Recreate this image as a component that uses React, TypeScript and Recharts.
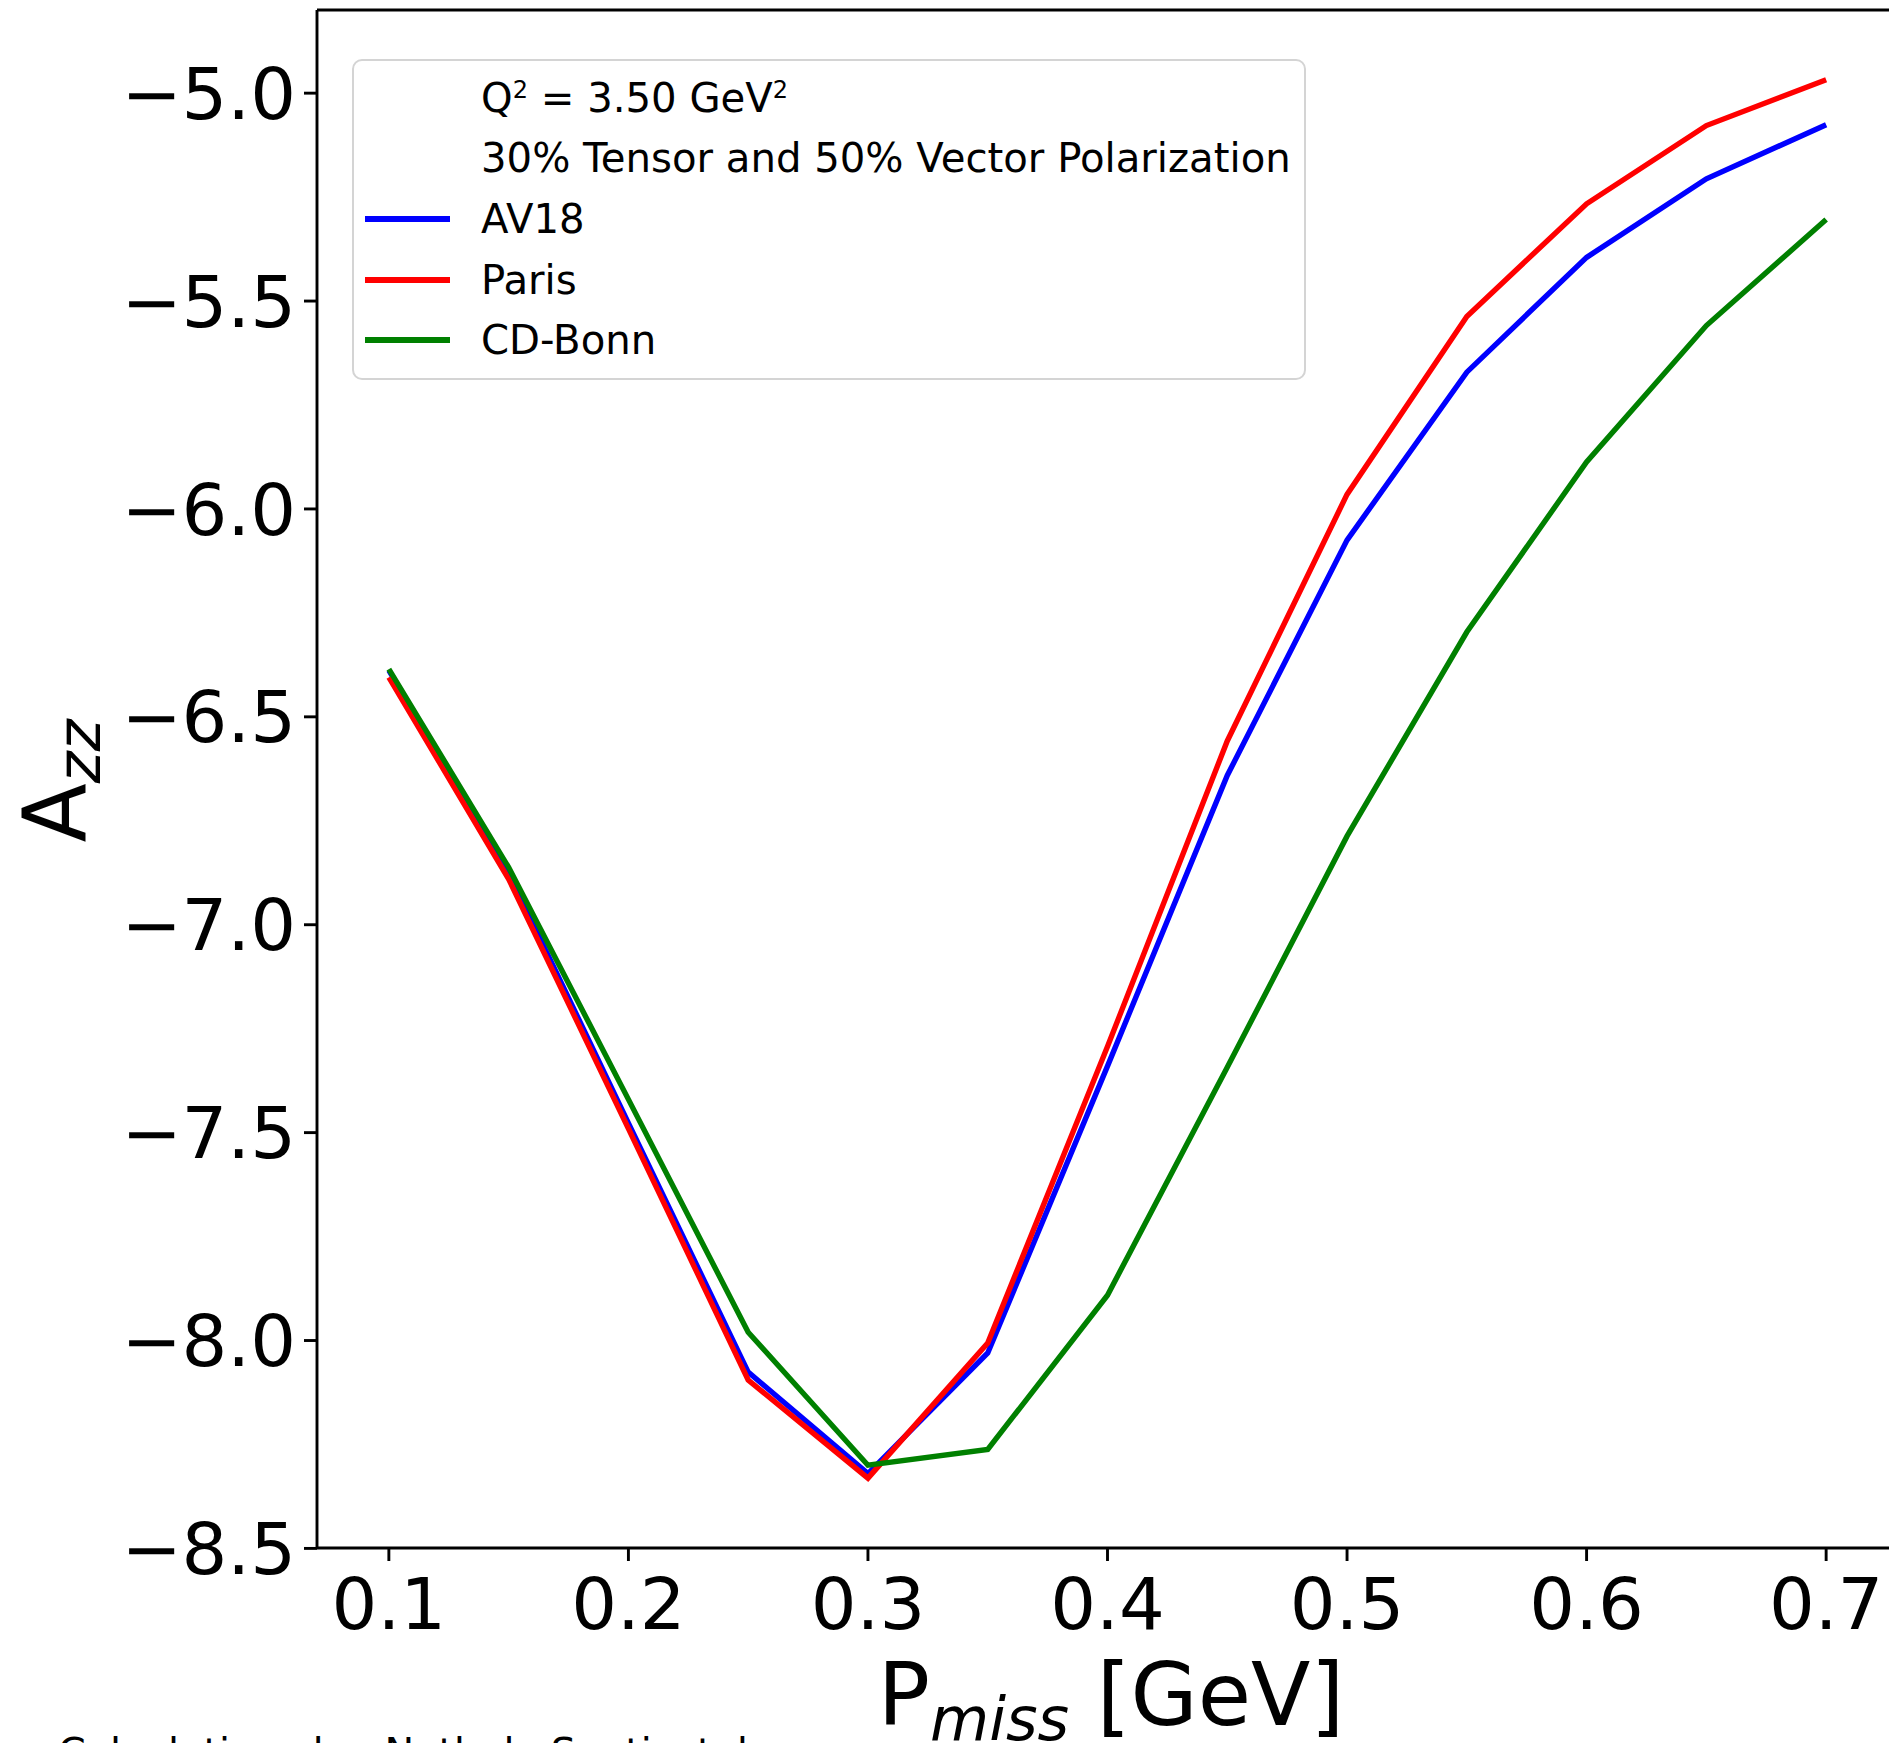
import React from 'react';
import { LineChart, Line, XAxis, YAxis, Legend, ReferenceLine } from 'recharts';

const pMiss = [0.1, 0.15, 0.2, 0.25, 0.3, 0.35, 0.4, 0.45, 0.5, 0.55, 0.6, 0.65, 0.7];
const av18 = [-6.388, -6.875, -7.477, -8.076, -8.32, -8.03, -7.34, -6.641, -6.075, -5.671, -5.395, -5.206, -5.076];
const paris = [-6.405, -6.89, -7.49, -8.095, -8.331, -8.006, -7.293, -6.558, -5.965, -5.537, -5.266, -5.078, -4.968];
const cdBonn = [-6.385, -6.862, -7.42, -7.98, -8.3, -8.262, -7.891, -7.343, -6.787, -6.296, -5.887, -5.559, -5.304];

const xTicks = [0.1, 0.2, 0.3, 0.4, 0.5, 0.6, 0.7];
const yTicks = [-8.5, -8.0, -7.5, -7.0, -6.5, -6.0, -5.5, -5.0];
const xDomain = [0.07, 0.73];
const yDomain = [-8.499, -4.8];

const seriesNames = ['AV18', 'Paris', 'CD-Bonn'];
const seriesKeys = ['av18', 'paris', 'cdBonn'];
const seriesColors = ['#0000ff', '#ff0000', '#008000'];

const FONT = 'DejaVu Sans';

const data = pMiss.map((x, i) => ({ x, av18: av18[i], paris: paris[i], cdBonn: cdBonn[i] }));

const fmtY = (v: number) => (v < 0 ? '\u2212' : '') + Math.abs(v).toFixed(1);
const fmtX = (v: number) => v.toFixed(1);

const rowCenters = [37, 97, 158, 219, 279];

const renderLegend = () => (
  <div
    style={{
      position: 'relative',
      width: 954,
      height: 321,
      boxSizing: 'border-box',
      border: '2.9px solid #d4d4d4',
      borderRadius: 10,
      background: 'rgba(255,255,255,0.8)',
      fontFamily: FONT,
      fontSize: 40.2,
      color: '#000',
      whiteSpace: 'nowrap',
    }}
  >
    <div style={{ position: 'absolute', left: 127, top: rowCenters[0] - 30, height: 60, display: 'flex', alignItems: 'center' }}>
      <span>
        Q<span style={{ fontSize: 24, position: 'relative', top: -14 }}>2</span> = 3.50 GeV
        <span style={{ fontSize: 24, position: 'relative', top: -14 }}>2</span>
      </span>
    </div>
    <div style={{ position: 'absolute', left: 127, top: rowCenters[1] - 30, height: 60, display: 'flex', alignItems: 'center' }}>
      <span>30% Tensor and 50% Vector Polarization</span>
    </div>
    {seriesNames.map((name, i) => (
      <div key={name}>
        <div
          style={{
            position: 'absolute',
            left: 11,
            top: rowCenters[i + 2] - 2.7,
            width: 85,
            height: 5.4,
            background: seriesColors[i],
          }}
        />
        <div style={{ position: 'absolute', left: 127, top: rowCenters[i + 2] - 30, height: 60, display: 'flex', alignItems: 'center' }}>
          <span>{name}</span>
        </div>
      </div>
    ))}
  </div>
);

export default function App() {
  return (
    <div
      style={{
        position: 'fixed',
        left: 0,
        top: 0,
        width: 1889,
        height: 1743,
        overflow: 'hidden',
        background: '#fff',
      }}
    >
      <LineChart width={1900} height={1743} data={data} margin={{ top: 10, right: 2, bottom: 0, left: 0 }}>
        <XAxis
          dataKey="x"
          type="number"
          domain={xDomain}
          ticks={xTicks}
          allowDataOverflow
          tickFormatter={fmtX}
          height={195}
          tickSize={13}
          tickMargin={17}
          axisLine={{ stroke: '#000', strokeWidth: 2.9 }}
          tickLine={{ stroke: '#000', strokeWidth: 2.9 }}
          tick={{ fill: '#000', fontSize: 72, fontFamily: FONT }}
          interval={0}
        />
        <YAxis
          type="number"
          domain={yDomain}
          ticks={yTicks}
          allowDataOverflow
          tickFormatter={fmtY}
          width={317}
          tickSize={13}
          tickMargin={8}
          axisLine={{ stroke: '#000', strokeWidth: 2.9 }}
          tickLine={{ stroke: '#000', strokeWidth: 2.9 }}
          tick={{ fill: '#000', fontSize: 72, fontFamily: FONT }}
          interval={0}
        />
        <ReferenceLine y={yDomain[1]} stroke="#000" strokeWidth={2.9} ifOverflow="visible" />
        {seriesKeys.map((k, i) => (
          <Line
            key={k}
            type="linear"
            dataKey={k}
            name={seriesNames[i]}
            stroke={seriesColors[i]}
            strokeWidth={5.4}
            dot={false}
            activeDot={false}
            isAnimationActive={false}
          />
        ))}
        <Legend
          layout="horizontal"
          verticalAlign="middle"
          align="center"
          content={renderLegend}
          wrapperStyle={{ position: 'absolute', left: 352, top: 59, width: 954, height: 321 }}
        />
      </LineChart>
      <svg
        width={1889}
        height={1743}
        style={{ position: 'absolute', left: 0, top: 0, pointerEvents: 'none' }}
      >
        <text x={1111} y={1725} textAnchor="middle" fontSize={86.7} fontFamily={FONT} fill="#000" style={{ whiteSpace: 'pre' }}>
          P
          <tspan fontStyle="italic" fontSize={60.7} dy={15}>miss</tspan>
          <tspan dy={-15} fontSize={86.7}>{' [GeV]'}</tspan>
        </text>
        <text
          transform="translate(85,781) rotate(-90)"
          textAnchor="middle"
          fontSize={86.7}
          fontFamily={FONT}
          fill="#000"
        >
          A<tspan fontStyle="italic" fontSize={60.7} dy={15}>zz</tspan>
        </text>
        <text x={58} y={1766} fontSize={39.7} fontFamily={FONT} fill="#000">
          Calculations by: Nathaly Santiesteban
        </text>
      </svg>
    </div>
  );
}
